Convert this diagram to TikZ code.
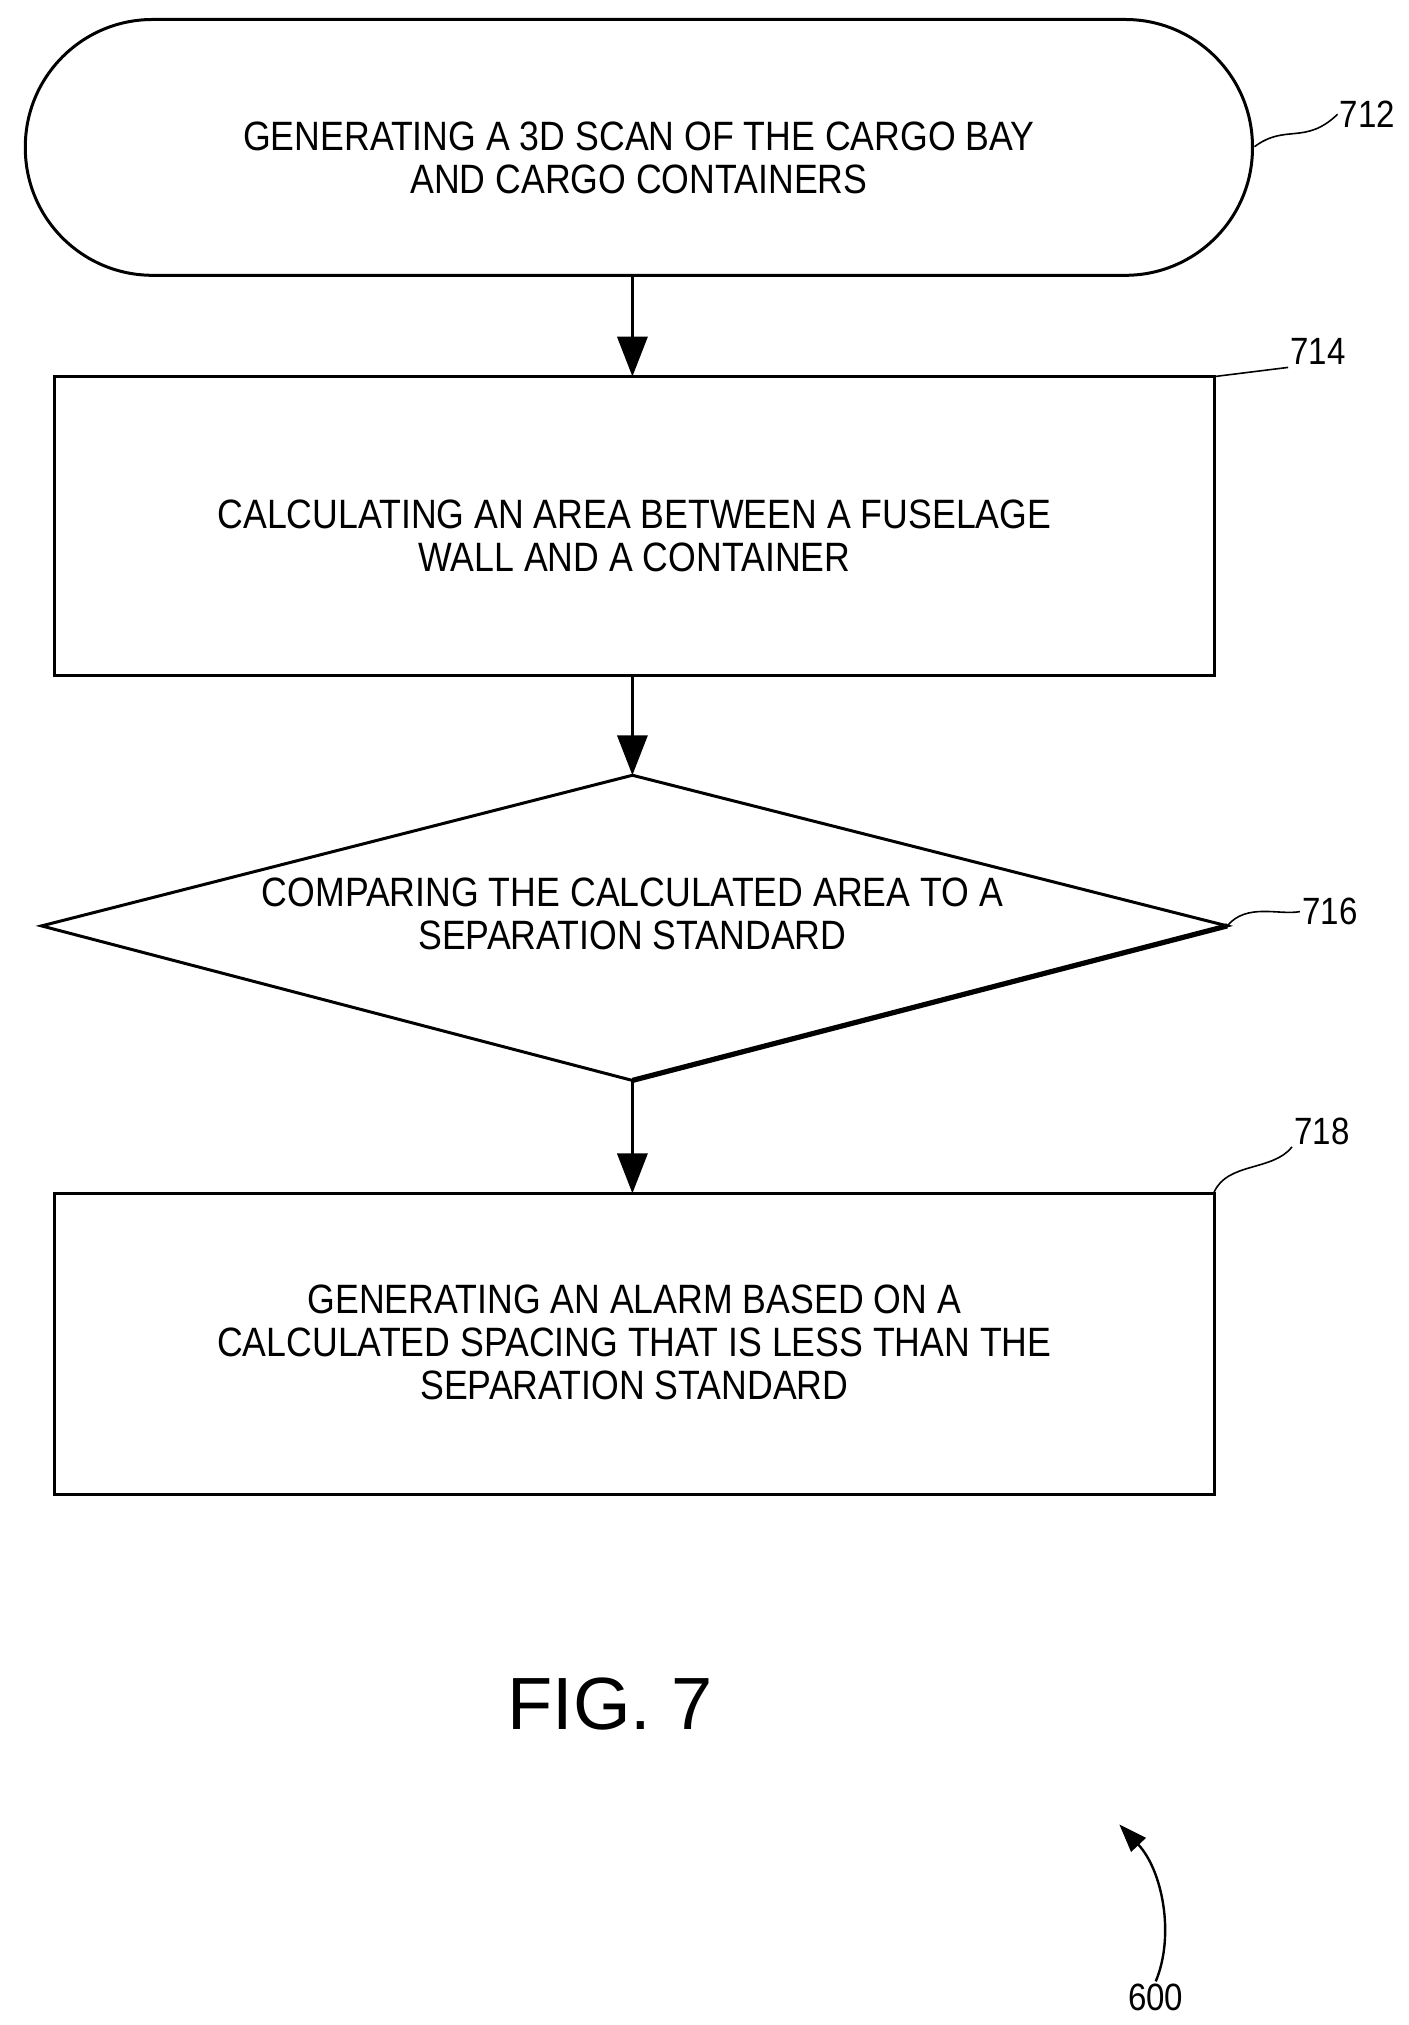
\documentclass[tikz,border=0pt]{standalone}
\usepackage{fontspec}
\setmainfont{Liberation Sans}[FakeStretch=0.87]
\newfontfamily\figfont{Liberation Sans}
\usetikzlibrary{arrows.meta}
\begin{document}
\begin{tikzpicture}[x=0.6493pt,y=-0.6493pt,
  txt/.style={font=\fontsize{20.5}{21.5}\selectfont,align=center,inner sep=0},
  lbl/.style={font=\fontsize{19}{21.5}\selectfont,inner sep=1pt},
  blk/.style={draw,line width=1.5pt},
  flow/.style={line width=1.8pt,-{Triangle[length=20pt,width=15pt]}},
  lead/.style={line width=0.8pt}]
\useasboundingbox (0,0) rectangle (1085,1559.4);
% terminator
\node[blk,rounded corners=98*0.6493pt,minimum width=945*0.6493pt,minimum height=197*0.6493pt] (t712) at (492,113.5) {};
\node[txt] at ([yshift=-5pt]t712) {GENERATING A 3D SCAN OF THE CARGO BAY\\AND CARGO CONTAINERS};
% box 714
\node[blk,minimum width=893*0.6493pt,minimum height=230*0.6493pt] (b714) at (488.5,405) {};
\node[txt] at ([yshift=-5pt]b714) {CALCULATING AN AREA BETWEEN A FUSELAGE\\WALL AND A CONTAINER};
% diamond 716
\coordinate (dT) at (487,597);
\coordinate (dL) at (32,713);
\coordinate (dR) at (945,713);
\coordinate (dB) at (487,832);
\draw[blk] (dT) -- (dR) -- (dB) -- (dL) -- cycle;
\draw[line width=2.6pt] (dR) -- (dB);
\node[txt] (d716) at (487,704) {COMPARING THE CALCULATED AREA TO A\\SEPARATION STANDARD};
% box 718
\node[blk,minimum width=893*0.6493pt,minimum height=232*0.6493pt] (b718) at (488.5,1035) {};
\node[txt] at ([yshift=1pt]b718) {GENERATING AN ALARM BASED ON A\\CALCULATED SPACING THAT IS LESS THAN THE\\SEPARATION STANDARD};
% flows
\draw[flow] (t712.south -| 487,0) -- (487,290);
\draw[flow] (487,520) -- (dT);
\draw[flow] (dB) -- (487,919);
% labels
\node[lbl,anchor=west] (l712) at (1030,88) {712};
\draw[lead] (966,113) .. controls (990,95) and (1005,112) .. (l712.west);
\node[lbl,anchor=west] (l714) at (992,271) {714};
\draw[lead] (935,290) -- (l714.south west);
\node[lbl,anchor=west] (l716) at (1001,702) {716};
\draw[lead] (945,713) .. controls (960,695) and (985,705) .. (l716.west);
\node[lbl,anchor=west] (l718) at (995,871) {718};
\draw[lead] (935,918) .. controls (945,895) and (980,902) .. (l718.south west);
\node[font=\figfont\fontsize{37}{40}\selectfont] (fig) at (470,1312) {FIG. 7};
\node[lbl] (l600) at (890,1538) {600};
\coordinate (a600) at (862,1405);
\draw[lead,line width=1.2pt,-{Triangle[length=14pt,width=10pt]}] (l600.north) .. controls (905,1490) and (895,1440) .. (a600);
\end{tikzpicture}
\end{document}
